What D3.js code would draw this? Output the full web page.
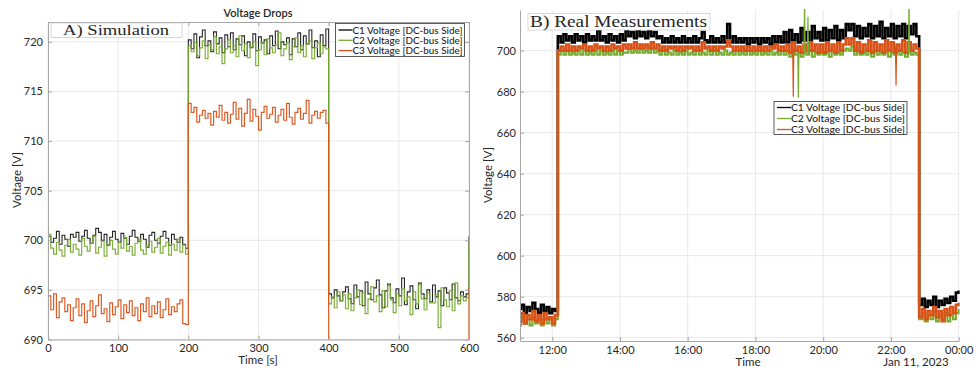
<!DOCTYPE html>
<html><head><meta charset="utf-8">
<script src="https://cdn.jsdelivr.net/npm/d3@7"></script>
<style>
body{margin:0;background:#fff}
svg{display:block}
text{font-family:Lato,"Noto Sans",sans-serif;fill:#262626}
</style>
</head><body>
<svg id="c" width="976" height="370"></svg>
<script>
// ---------- DATA ----------
const seriesNames = ["C1 Voltage [DC-bus Side]", "C2 Voltage [DC-bus Side]", "C3 Voltage [DC-bus Side]"];
const seriesColors = ["#000000", "#77AC30", "#D95319"];

// Left panel: simulation, sampled every 4 s from 0 to 600 s
const simStep = 4;
const simC1 = [
700.4,699.8,700.2,700.9,699.6,700.5,700.1,699.4,700.6,700.3,700.8,699.9,700.4,701.0,700.2,699.7,700.5,701.2,700.8,700.0,
700.6,699.5,700.3,700.9,700.1,699.8,700.7,700.2,699.6,700.4,701.0,700.3,699.9,700.6,700.1,699.3,700.5,700.8,700.0,699.7,
700.4,700.9,700.2,699.5,700.6,700.1,699.8,700.3,699.6,699.2,
720.2,719.3,720.8,718.4,720.5,721.2,719.6,720.1,719.0,721.0,719.8,720.4,718.9,720.7,719.5,720.9,719.2,720.3,719.7,720.6,
718.6,720.0,719.4,720.8,719.1,720.5,719.9,720.2,718.8,720.6,719.6,721.1,719.3,720.0,719.7,720.4,718.7,720.3,719.5,720.9,
719.2,720.6,719.8,721.2,719.4,720.1,718.5,720.7,719.6,721.3,
694.6,694.2,695.0,694.4,693.9,694.8,695.3,694.1,693.6,695.5,694.3,694.9,693.4,695.8,694.6,694.0,695.2,696.0,694.5,693.2,
694.9,695.6,694.2,693.7,695.1,694.4,696.2,693.5,694.8,695.4,694.0,693.1,695.7,694.6,694.1,695.0,693.8,695.5,694.3,694.9,
693.4,695.2,694.7,694.0,695.6,694.2,693.9,694.8,694.3,694.6,
700.4];
const simC2 = [
700.6,699.2,698.6,699.8,699.0,698.4,699.5,700.1,698.8,699.6,699.1,698.5,700.2,699.4,698.9,699.7,700.4,698.7,699.3,699.9,
698.4,699.6,700.0,699.1,698.6,699.8,699.2,700.3,698.9,699.4,698.5,699.7,700.1,699.0,698.6,699.5,699.9,698.8,699.3,700.2,
698.7,699.4,699.8,698.5,699.6,699.0,700.1,698.8,699.5,698.6,
719.6,719.0,719.9,718.6,719.4,720.1,718.3,719.7,719.2,720.5,718.8,719.5,717.8,719.3,720.2,718.9,719.6,718.5,720.6,719.1,
719.8,718.4,719.5,720.0,717.6,719.2,719.9,718.7,720.3,719.4,718.9,719.7,720.9,718.6,719.3,719.9,718.2,719.5,720.4,718.9,
719.6,718.5,719.8,720.1,718.3,719.4,719.9,718.8,719.5,719.3,
693.6,694.3,693.2,694.8,693.9,694.5,693.1,694.6,692.9,694.2,695.0,693.5,694.7,692.6,694.1,695.3,693.8,694.4,692.8,694.9,
693.3,695.4,694.0,692.7,694.6,693.4,695.1,693.9,694.3,692.5,694.8,693.6,695.5,694.1,693.0,694.7,693.7,693.7,694.5,691.2,
695.2,694.0,693.3,694.9,692.9,695.7,693.6,694.4,693.9,694.2,
699.6];
const simC3 = [
694.4,693.0,694.6,692.2,693.8,694.2,692.8,693.5,691.9,693.2,694.1,692.4,693.6,691.7,692.9,693.9,692.3,693.4,694.5,692.6,
693.1,691.8,693.7,692.5,693.3,694.0,692.1,693.5,692.7,693.9,692.4,693.2,691.9,693.6,692.8,694.2,692.3,693.4,692.6,693.8,
692.2,693.0,694.1,692.5,693.3,692.8,693.6,694.0,691.6,691.5,
713.8,712.9,713.4,711.9,712.6,713.1,712.3,712.8,711.6,713.0,712.4,713.6,712.1,712.9,711.8,712.7,713.9,712.2,713.3,711.5,
712.8,714.2,712.0,713.2,712.5,711.1,712.9,713.5,712.3,712.7,713.4,711.9,712.6,713.2,712.1,713.8,712.4,711.7,712.9,713.3,
712.2,712.8,714.1,711.8,712.6,713.0,712.3,712.9,713.1,711.8,
686,686,686,686,686,686,686,686,686,686,686,686,686,686,686,686,686,686,686,686,
686,686,686,686,686,686,686,686,686,686,686,686,686,686,686,686,686,686,686,686,
686,686,686,686,686,686,686,686,686,686,
695.3];
const simXTicks = [0, 100, 200, 300, 400, 500, 600];
const simYTicks = [690, 695, 700, 705, 710, 715, 720];

// Right panel: real measurements, sampled every 5 min from 11:00 (Jan 10, 2023) to 00:00 (Jan 11)
const realStepMin = 5;
const realC1 = [
574,576,572,575,573,577,574,572,576,573,575,572,574,573,
707,704,708,705,707,704,708,705,707,704,708,705,707,705,710,705,707,704,708,705,707,704,708,705,
710,707,709,706,710,707,709,706,710,707,709,706,
707,704,706,704,707,704,706,704,707,704,706,704,707,704,706,709,705,704,
707,704,706,704,707,704,713,704,707,704,706,704,
706,703,706,704,706,703,706,704,706,703,707,704,707,704,
709,704,710,705,708,704,711,705,709,704,712,706,709,
705,711,705,710,706,712,705,710,706,
713,710,713,
707,712,706,711,707,713,706,712,707,714,706,711,707,713,706,712,707,713,706,712,708,713,707,
576,579,575,578,576,580,575,578,576,579,577,580,578,582,583];
const realC2 = [
566,570,567,569,566,570,567,569,566,569,567,570,566,569,
698,700,698,700,698,699,698,700,698,700,698,699,698,700,698,700,698,699,698,700,698,700,698,699,
699,701,699,700,699,701,699,700,699,701,699,700,
698,700,698,699,698,700,698,699,698,700,698,699,698,700,698,699,698,700,
698,700,698,699,698,700,698,699,698,700,698,699,
698,700,698,699,698,700,698,699,698,700,698,699,698,700,
698,700,697,700,698,699,697,700,698,700,697,699,698,
700,698,699,697,700,698,699,698,700,
701,700,702,
698,700,698,699,698,700,697,700,698,699,698,700,697,699,698,700,698,699,697,700,698,699,698,
569,572,568,571,569,573,568,571,569,572,568,571,569,572,574];
const realC3 = [
568,572,567,571,569,573,568,571,567,572,569,570,567,571,
700,702,700,703,700,702,700,702,701,703,700,702,700,703,701,702,700,702,700,703,701,702,700,703,
701,703,701,704,701,703,701,703,701,704,701,703,
700,702,700,702,701,702,700,702,700,702,701,702,700,702,700,704,701,702,
700,702,700,702,701,702,705,702,700,702,700,702,
700,702,700,702,700,702,700,702,700,702,701,703,700,702,
700,703,699,704,700,702,699,703,700,704,700,703,699,
703,699,704,700,703,699,704,700,703,
706,703,706,
700,704,699,703,700,705,699,704,700,703,699,705,700,704,699,703,700,705,699,704,700,703,701,
570,574,569,573,571,575,570,573,568,574,571,575,572,576,577];
// Short transient spikes (time, series index, extreme value, level before spike)
const spikeTimes = ["19:07", "19:16", "19:27", "19:33", "22:09", "22:32"];
const spikeSeries = [2, 1, 1, 1, 2, 1];
const spikeValues = [677.5, 677, 726, 716.5, 683, 726];
const spikeBase = [701, 699, 699, 699, 702, 699];
const realYTicks = [560, 580, 600, 620, 640, 660, 680, 700];

// ---------- DRAW ----------
const svg = d3.select("#c");
const axisCol = "#a6a6a6", gridCol = "#e8e8e8";

// ===== Left panel =====
const L = {x0: 48, x1: 469, y0: 22, y1: 339.5};
const xL = d3.scaleLinear().domain([0, 600]).range([L.x0, L.x1]);
const yL = d3.scaleLinear().domain([690, 722]).range([L.y1, L.y0]);
const gL = svg.append("g");
gL.append("rect").attr("x", L.x0).attr("y", L.y0).attr("width", L.x1 - L.x0).attr("height", L.y1 - L.y0).attr("fill", "#fff");
gL.append("g").selectAll("line").data(simXTicks).join("line")
  .attr("x1", d => xL(d)).attr("x2", d => xL(d)).attr("y1", L.y0).attr("y2", L.y1).attr("stroke", gridCol);
gL.append("g").selectAll("line").data(simYTicks).join("line")
  .attr("y1", d => yL(d)).attr("y2", d => yL(d)).attr("x1", L.x0).attr("x2", L.x1).attr("stroke", gridCol);

svg.append("clipPath").attr("id", "clipL").append("rect")
  .attr("x", L.x0).attr("y", L.y0).attr("width", L.x1 - L.x0).attr("height", L.y1 - L.y0);
const lineL = d3.line().x((d, i) => xL(i * simStep)).y(d => yL(d)).curve(d3.curveStepAfter);
[simC1, simC2, simC3].forEach((s, i) => {
  gL.append("path").attr("clip-path", "url(#clipL)").attr("d", lineL(s))
    .attr("fill", "none").attr("stroke", seriesColors[i]).attr("stroke-width", i === 0 ? 1.1 : 1.2)
    .attr("stroke-opacity", i === 0 ? 0.85 : 0.95);
});

function styleAxis(g) {
  g.select(".domain").attr("stroke", axisCol);
  g.selectAll(".tick line").attr("stroke", axisCol);
  g.selectAll(".tick text").attr("font-size", 11).attr("fill", "#262626")
    .attr("font-family", "Lato, 'Noto Sans', sans-serif");
}
gL.append("g").attr("transform", `translate(0,${L.y1})`)
  .call(d3.axisBottom(xL).tickValues(simXTicks).tickSizeInner(-4).tickSizeOuter(0).tickPadding(5)).call(styleAxis);
gL.append("g").attr("transform", `translate(0,${L.y0})`)
  .call(d3.axisTop(xL).tickValues(simXTicks).tickSizeInner(-4).tickSizeOuter(0).tickFormat("")).call(styleAxis);
gL.append("g").attr("transform", `translate(${L.x0},0)`)
  .call(d3.axisLeft(yL).tickValues(simYTicks).tickSizeInner(-4).tickSizeOuter(0).tickPadding(5)).call(styleAxis);
gL.append("g").attr("transform", `translate(${L.x1},0)`)
  .call(d3.axisRight(yL).tickValues(simYTicks).tickSizeInner(-4).tickSizeOuter(0).tickFormat("")).call(styleAxis);

gL.append("text").attr("x", 258).attr("y", 17).attr("text-anchor", "middle")
  .attr("font-size", 11).attr("font-weight", 600).text("Voltage Drops");
gL.append("text").attr("x", 258).attr("y", 364).attr("text-anchor", "middle")
  .attr("font-size", 11.5).text("Time [s]");
gL.append("text").attr("transform", "translate(21,180) rotate(-90)").attr("text-anchor", "middle")
  .attr("font-size", 11.5).text("Voltage [V]");

// annotation A
gL.append("rect").attr("x", 51).attr("y", 23).attr("width", 131).attr("height", 14.5)
  .attr("fill", "#fff").attr("stroke", "#cfcfcf").attr("stroke-width", 0.8);
gL.append("text").attr("x", 63).attr("y", 35).attr("font-size", 15)
  .style("font-family", "'Liberation Serif',serif")
  .attr("textLength", 106).attr("lengthAdjust", "spacingAndGlyphs").text("A) Simulation");

function legend(g, x, y, w, h, rows, textW) {
  g.append("rect").attr("x", x).attr("y", y).attr("width", w).attr("height", h)
    .attr("fill", "#fff").attr("stroke", "#333").attr("stroke-width", 0.8);
  seriesNames.forEach((n, i) => {
    const yy = rows[i];
    g.append("line").attr("x1", x + 3).attr("x2", x + 17).attr("y1", yy).attr("y2", yy)
      .attr("stroke", seriesColors[i]).attr("stroke-width", 1.3);
    g.append("text").attr("x", x + 17).attr("y", yy + 3.6).attr("font-size", 10)
      .attr("font-weight", 500)
      .attr("textLength", textW).attr("lengthAdjust", "spacingAndGlyphs").text(n);
  });
}
legend(gL, 335.5, 23.5, 129, 33, [30, 40.3, 50.6], 110);

// ===== Right panel =====
const R = {x0: 520, x1: 958.7, y0: 10, y1: 341};
const t0 = new Date(2023, 0, 10, 11, 0);
const tAt = i => new Date(t0.getTime() + i * realStepMin * 60000);
const parseHM = s => { const [h, m] = s.split(":").map(Number); return new Date(2023, 0, 10, h, m); };
const xR = d3.scaleTime().domain([new Date(2023, 0, 10, 11, 3), new Date(2023, 0, 11, 0, 0)]).range([R.x0, R.x1]);
const yR = d3.scaleLinear().domain([558.4, 719.8]).range([R.y1, R.y0]);
const gR = svg.append("g");
const xTicksR = d3.timeHour.every(2).range(new Date(2023, 0, 10, 12, 0), new Date(2023, 0, 11, 0, 1));
gR.append("g").selectAll("line").data(xTicksR).join("line")
  .attr("x1", d => xR(d)).attr("x2", d => xR(d)).attr("y1", R.y0).attr("y2", R.y1).attr("stroke", gridCol);
gR.append("g").selectAll("line").data(realYTicks).join("line")
  .attr("y1", d => yR(d)).attr("y2", d => yR(d)).attr("x1", R.x0).attr("x2", R.x1).attr("stroke", gridCol);

svg.append("clipPath").attr("id", "clipR").append("rect")
  .attr("x", R.x0).attr("y", R.y0 - 10).attr("width", R.x1 - R.x0 + 1).attr("height", R.y1 - R.y0 + 10);
const lineR = d3.line().x((d, i) => xR(tAt(i))).y(d => yR(d)).curve(d3.curveStepAfter);
[realC1, realC2, realC3].forEach((s, i) => {
  gR.append("path").attr("clip-path", "url(#clipR)").attr("d", lineR(s))
    .attr("fill", "none").attr("stroke", seriesColors[i]).attr("stroke-width", i === 1 ? 2.2 : 2.6)
    .attr("stroke-linejoin", "miter");
});
// spikes
const spikeLine = d3.line().x(d => xR(d[0])).y(d => yR(d[1]));
spikeTimes.forEach((t, i) => {
  const tm = parseHM(t);
  const pts = [[new Date(tm.getTime() - 60000), spikeBase[i]], [tm, spikeValues[i]], [new Date(tm.getTime() + 60000), spikeBase[i]]];
  gR.append("path").attr("clip-path", "url(#clipR)").attr("d", spikeLine(pts))
    .attr("fill", "none").attr("stroke", seriesColors[spikeSeries[i]]).attr("stroke-width", 1.2);
});
// keep spikes inside the panel top edge
gR.append("rect").attr("x", R.x0).attr("y", 0).attr("width", R.x1 - R.x0 + 2).attr("height", R.y0 - 1).attr("fill", "#fff");

gR.append("g").attr("transform", `translate(0,${R.y1})`)
  .call(d3.axisBottom(xR).tickValues(xTicksR).tickFormat(d3.timeFormat("%H:%M")).tickSizeInner(-4).tickSizeOuter(0).tickPadding(5))
  .call(styleAxis);
gR.append("g").attr("transform", `translate(${R.x0},0)`)
  .call(d3.axisLeft(yR).tickValues(realYTicks).tickSizeInner(-4).tickSizeOuter(0).tickPadding(4))
  .call(styleAxis);

gR.append("text").attr("x", 748).attr("y", 366).attr("text-anchor", "middle").attr("font-size", 11.5).text("Time");
gR.append("text").attr("x", 916).attr("y", 366).attr("text-anchor", "middle").attr("font-size", 11.5).text("Jan 11, 2023");
gR.append("text").attr("transform", "translate(492,175) rotate(-90)").attr("text-anchor", "middle")
  .attr("font-size", 11.5).text("Voltage [V]");

gR.append("rect").attr("x", 528).attr("y", 13.5).attr("width", 182).attr("height", 16.5)
  .attr("fill", "#fff").attr("stroke", "#cfcfcf").attr("stroke-width", 0.8);
gR.append("text").attr("x", 530).attr("y", 27).attr("font-size", 17)
  .style("font-family", "'Liberation Serif',serif")
  .attr("textLength", 177).attr("lengthAdjust", "spacingAndGlyphs").text("B) Real Measurements");

legend(gR, 774, 101.5, 133, 33, [107.5, 118.5, 129.5], 114);
</script>
</body></html>
